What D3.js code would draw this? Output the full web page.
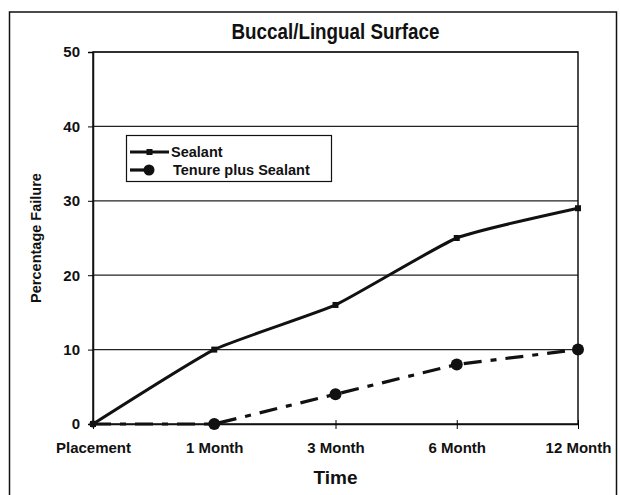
<!DOCTYPE html>
<html><head><meta charset="utf-8">
<script src="https://cdn.jsdelivr.net/npm/d3@7"></script>
<style>body{margin:0;background:#fff}svg{display:block}</style>
</head><body>
<script>
const categories = ["Placement","1 Month","3 Month","6 Month","12 Month"];
const sealant = [0,10,16,25,29];
const tenure = [0,0,4,8,10];
const yTicks = [0,10,20,30,40,50];
const seriesNames = ["Sealant","Tenure plus Sealant"];

const W=620,H=495;
const m={left:93,right:42,top:52,bottom:71};
const svg=d3.select("body").append("svg").attr("width",W).attr("height",H);
const font="Arial, 'Liberation Sans', sans-serif";
// outer frame
svg.append("rect").attr("x",9.5).attr("y",12).attr("width",607).attr("height",500)
  .attr("fill","none").attr("stroke","#111").attr("stroke-width",1.5);
const x=d3.scalePoint().domain(categories).range([m.left,W-m.right]).padding(0);
const y=d3.scaleLinear().domain([0,50]).range([H-m.bottom,m.top]);
// gridlines
svg.append("g").selectAll("line").data(yTicks.filter(d=>d>0)).join("line")
  .attr("x1",m.left).attr("x2",W-m.right).attr("y1",d=>y(d)).attr("y2",d=>y(d))
  .attr("stroke","#222").attr("stroke-width",1.2);
// plot frame
svg.append("rect").attr("x",m.left).attr("y",y(50)).attr("width",W-m.right-m.left).attr("height",y(0)-y(50))
  .attr("fill","none").attr("stroke","#111").attr("stroke-width",1.5);
// y axis
const ya=svg.append("g").attr("transform",`translate(${m.left},0)`)
  .call(d3.axisLeft(y).tickValues(yTicks).tickSize(5).tickPadding(8));
ya.select(".domain").attr("stroke","#111").attr("stroke-width",1.5);
ya.selectAll("text").attr("font-family",font).attr("font-weight","bold").attr("font-size",15).attr("fill","#111");
// x axis
const xa=svg.append("g").attr("transform",`translate(0,${y(0)})`)
  .call(d3.axisBottom(x).tickSizeInner(5).tickSizeOuter(0).tickPadding(13));
xa.select(".domain").attr("stroke","#111").attr("stroke-width",1.5);
xa.selectAll(".tick line").attr("y1",-4);
xa.selectAll("text").attr("font-family",font).attr("font-weight","bold").attr("font-size",15).attr("fill","#111");
// titles
svg.append("text").attr("x",(m.left+W-m.right)/2).attr("y",39).attr("text-anchor","middle")
  .attr("font-family",font).attr("font-weight","bold").attr("font-size",22)
  .attr("textLength",208).attr("lengthAdjust","spacingAndGlyphs")
  .attr("fill","#111").text("Buccal/Lingual Surface");
svg.append("text").attr("x",(m.left+W-m.right)/2).attr("y",484).attr("text-anchor","middle")
  .attr("font-family",font).attr("font-weight","bold").attr("font-size",19).attr("fill","#111").text("Time");
svg.append("text").attr("transform",`translate(41,${(y(0)+y(50))/2}) rotate(-90)`).attr("text-anchor","middle")
  .attr("font-family",font).attr("font-weight","bold").attr("font-size",14.5).attr("fill","#111").text("Percentage Failure");
// lines
const line=d3.line().x((d,i)=>x(categories[i])).y(d=>y(d));
svg.append("path").datum(sealant).attr("d",line.curve(d3.curveCardinal.tension(0.55)))
  .attr("fill","none").attr("stroke","#111").attr("stroke-width",3);
svg.append("g").selectAll("rect").data(sealant).join("rect")
  .attr("x",(d,i)=>x(categories[i])-3).attr("y",d=>y(d)-3).attr("width",6).attr("height",6).attr("fill","#111");
const line2=d3.line().x((d,i)=>x(categories[i])).y(d=>y(d));
svg.append("path").datum(tenure).attr("d",line2)
  .attr("fill","none").attr("stroke","#111").attr("stroke-width",3.2).attr("stroke-dasharray","18,9,6,9");
svg.append("g").selectAll("circle").data(tenure).join("circle")
  .attr("cx",(d,i)=>x(categories[i])).attr("cy",d=>y(d)).attr("r",(d,i)=>i===0?3.5:6).attr("fill","#111");
// legend
const lg=svg.append("g");
lg.append("rect").attr("x",126.5).attr("y",135.5).attr("width",205).attr("height",46)
  .attr("fill","#fff").attr("stroke","#111").attr("stroke-width",1.2);
lg.append("line").attr("x1",130).attr("x2",169).attr("y1",152).attr("y2",152).attr("stroke","#111").attr("stroke-width",3);
lg.append("rect").attr("x",146.5).attr("y",149).attr("width",6).attr("height",6).attr("fill","#111");
lg.append("line").attr("x1",130).attr("x2",149).attr("y1",170).attr("y2",170).attr("stroke","#111").attr("stroke-width",3.2);
lg.append("circle").attr("cx",149).attr("cy",170).attr("r",5.5).attr("fill","#111");
lg.selectAll("text").data(seriesNames).join("text")
  .attr("x",(d,i)=>i===0?171:173).attr("y",(d,i)=>i===0?157:175)
  .attr("font-family",font).attr("font-weight","bold").attr("font-size",14.5).attr("fill","#111").text(d=>d);
</script>
</body></html>
